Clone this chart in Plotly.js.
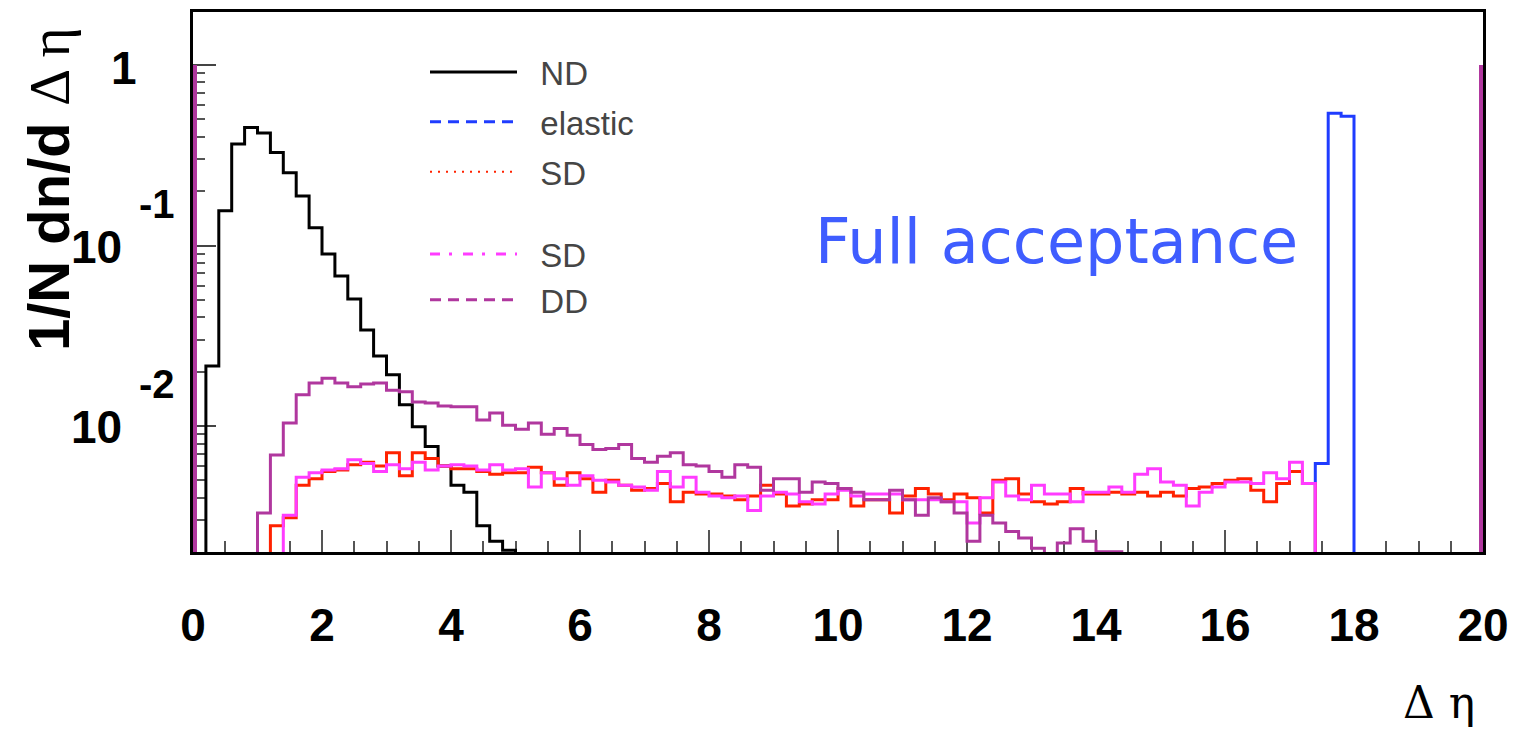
<!DOCTYPE html>
<html>
<head>
<meta charset="utf-8">
<script src="https://cdn.plot.ly/plotly-3.0.1.min.js"></script>
<style>
html,body{margin:0;padding:0;background:#ffffff;}
#chart{width:1517px;height:735px;}
</style>
</head>
<body>
<div id="chart"></div>
<script>
// ---------- histogram binning (Delta eta) ----------
const binLow = 0;
const binWidth = 0.2;
const nBins = 100;

// ---------- series values: 1/N dn/dDeta per bin (bins 0.0-0.2 ... 19.8-20.0) ----------
const ndValues = [
  0, 0.0215, 0.156, 0.365, 0.45, 0.42, 0.327, 0.253, 0.188, 0.1255,
  0.0897, 0.0678, 0.0505, 0.034, 0.0244, 0.0192, 0.0131, 0.0099, 0.0077, 0.0060,
  0.0047, 0.0043, 0.0028, 0.0023, 0.00205, 0, 0, 0, 0, 0,
  0, 0, 0, 0, 0, 0, 0, 0, 0, 0,
  0, 0, 0, 0, 0, 0, 0, 0, 0, 0,
  0, 0, 0, 0, 0, 0, 0, 0, 0, 0,
  0, 0, 0, 0, 0, 0, 0, 0, 0, 0,
  0, 0, 0, 0, 0, 0, 0, 0, 0, 0,
  0, 0, 0, 0, 0, 0, 0, 0, 0, 0,
  0, 0, 0, 0, 0, 0, 0, 0, 0, 0
];

const elasticValues = [
  0, 0, 0, 0, 0, 0, 0, 0, 0, 0,
  0, 0, 0, 0, 0, 0, 0, 0, 0, 0,
  0, 0, 0, 0, 0, 0, 0, 0, 0, 0,
  0, 0, 0, 0, 0, 0, 0, 0, 0, 0,
  0, 0, 0, 0, 0, 0, 0, 0, 0, 0,
  0, 0, 0, 0, 0, 0, 0, 0, 0, 0,
  0, 0, 0, 0, 0, 0, 0, 0, 0, 0,
  0, 0, 0, 0, 0, 0, 0, 0, 0, 0,
  0, 0, 0, 0, 0, 0, 0, 0.0062, 0.54, 0.52,
  0, 0, 0, 0, 0, 0, 0, 0, 0, 0
];

const sdRedValues = [
  0, 0, 0, 0, 0, 0, 0.0028, 0.0031, 0.0047, 0.0051,
  0.0056, 0.0057, 0.0061, 0.0063, 0.0060, 0.0071, 0.0053, 0.0071, 0.0066, 0.0060,
  0.0058, 0.0058, 0.0056, 0.0054, 0.0055, 0.0055, 0.0059, 0.0055, 0.0047, 0.0055,
  0.0051, 0.0043, 0.0050, 0.0047, 0.0044, 0.0045, 0.0048, 0.0038, 0.0043, 0.0042,
  0.0042, 0.0041, 0.0039, 0.0041, 0.0047, 0.0042, 0.0036, 0.0037, 0.0039, 0.0039,
  0.0045, 0.0036, 0.0039, 0.0039, 0.0033, 0.0041, 0.0045, 0.0042, 0.0039, 0.0042,
  0.0040, 0.0033, 0.0050, 0.0051, 0.0042, 0.0038, 0.0037, 0.0038, 0.0045, 0.0042,
  0.0042, 0.0043, 0.0042, 0.0043, 0.0041, 0.0043, 0.0041, 0.0045, 0.0046, 0.0048,
  0.0050, 0.0051, 0.0044, 0.0038, 0.0048, 0.0056, 0.0048, 0, 0, 0,
  0, 0, 0, 0, 0, 0, 0, 0, 0, 0
];

const sdMagentaValues = [
  0, 0, 0, 0, 0, 0, 0, 0.0032, 0.0052, 0.0055,
  0.0057, 0.0058, 0.0065, 0.0062, 0.0056, 0.0061, 0.0058, 0.0063, 0.0057, 0.0060,
  0.0061, 0.0060, 0.0057, 0.0061, 0.0057, 0.0058, 0.0046, 0.0055, 0.0051, 0.0047,
  0.0053, 0.0050, 0.0049, 0.0047, 0.0046, 0.0044, 0.0056, 0.0046, 0.0052, 0.0043,
  0.0041, 0.0040, 0.0041, 0.0034, 0.0041, 0.0043, 0.0042, 0.0038, 0.0037, 0.0042,
  0.0044, 0.0041, 0.0042, 0.0042, 0.0042, 0.0039, 0.0039, 0.0039, 0.0038, 0.0038,
  0.0029, 0.0040, 0.0049, 0.0041, 0.0039, 0.0047, 0.0042, 0.0042, 0.0038, 0.0043,
  0.0043, 0.0046, 0.0043, 0.0054, 0.0058, 0.0049, 0.0047, 0.0036, 0.0043, 0.0046,
  0.0049, 0.0049, 0.0048, 0.0055, 0.0051, 0.0063, 0.0048, 0, 0, 0,
  0, 0, 0, 0, 0, 0, 0, 0, 0, 0
];

const ddValues = [
  0, 0, 0, 0, 0, 0.0033, 0.0069, 0.0104, 0.0149, 0.0173,
  0.0184, 0.0173, 0.0165, 0.0171, 0.0173, 0.0158, 0.0155, 0.0136, 0.0134, 0.0129,
  0.0128, 0.0128, 0.0108, 0.0118, 0.0101, 0.0096, 0.0104, 0.0090, 0.0097, 0.0089,
  0.0079, 0.0074, 0.0075, 0.0079, 0.0066, 0.0063, 0.0068, 0.0071, 0.0061, 0.0060,
  0.0056, 0.0052, 0.0061, 0.0059, 0.0044, 0.0051, 0.0051, 0.0043, 0.0049, 0.0048,
  0.0045, 0.0043, 0.0039, 0.0039, 0.0044, 0.0039, 0.0032, 0.0040, 0.0038, 0.0033,
  0.0023, 0.0032, 0.0029, 0.0026, 0.0024, 0.0021, 0, 0.00225, 0.0027, 0.0023,
  0.00201, 0.00201, 0, 0, 0, 0, 0, 0, 0, 0,
  0, 0, 0, 0, 0, 0, 0, 0, 0, 0,
  0, 0, 0, 0, 0, 0, 0, 0, 0, 0
];
// DD histogram edge lines drawn at the histogram range limits (value reached)
const ddEdgeValues = [1, 1];

// ---------- labels ----------
const seriesNames = ['ND', 'elastic', 'SD', 'SD', 'DD'];
const xTickVals = [0, 2, 4, 6, 8, 10, 12, 14, 16, 18, 20];
const xTickText = ['0', '2', '4', '6', '8', '10', '12', '14', '16', '18', '20'];
const yTickVals = [1, 0.1, 0.01];
const yTickBase = ['1', '10', '10'];
const yTickExp = ['', '-1', '-2'];
const yTitleMain = '1/N dn/d';
const yTitleSym = 'Δ η';
const xTitle = 'Δ η';
const noteText = 'Full acceptance';

// ---------- styling ----------
const colors = {nd: '#000000', el: '#1f3cff', sd: '#ff2200', sd2: '#ff3cff', dd: '#b0379e'};
const FLOOR = 1e-4; // empty bins drawn below the visible range
const yRange = [-2.698, 0.2936];

function stepXY(values) {
  const xs = [binLow], ys = [FLOOR];
  values.forEach((v, i) => { xs.push(binLow + i * binWidth); ys.push(v > 0 ? v : FLOOR); });
  const last = values[values.length - 1];
  const xEnd = binLow + values.length * binWidth;
  xs.push(xEnd); ys.push(last > 0 ? last : FLOOR);
  xs.push(xEnd); ys.push(FLOOR);
  return {x: xs, y: ys};
}

function histTrace(values, color) {
  const p = stepXY(values);
  return {type: 'scatter', mode: 'lines', x: p.x, y: p.y,
    line: {color: color, width: 3, shape: 'hv', simplify: false},
    showlegend: false, hoverinfo: 'skip'};
}

const xMax = binLow + nBins * binWidth;
const edgeTrace = {type: 'scatter', mode: 'lines',
  x: [binLow, binLow, null, xMax, xMax],
  y: [FLOOR, ddEdgeValues[0], null, FLOOR, ddEdgeValues[1]],
  line: {color: colors.dd, width: 8}, showlegend: false, hoverinfo: 'skip'};

const pad = '\u00A0\u00A0';
function legendTrace(name, color, dash, width, legendId, group) {
  return {type: 'scatter', mode: 'lines', x: [null], y: [null], name: pad + name,
    line: {color: color, dash: dash, width: width}, legend: legendId,
    legendgroup: group, showlegend: true, hoverinfo: 'skip'};
}

const data = [
  histTrace(ndValues, colors.nd),
  histTrace(elasticValues, colors.el),
  histTrace(sdRedValues, colors.sd),
  histTrace(sdMagentaValues, colors.sd2),
  histTrace(ddValues, colors.dd),
  edgeTrace,
  legendTrace(seriesNames[0], colors.nd, 'solid', 3, 'legend', 'g1'),
  legendTrace(seriesNames[1], colors.el, '11px,7px', 3, 'legend', 'g2'),
  legendTrace(seriesNames[2], colors.sd, '2px,6px', 2, 'legend', 'g3'),
  legendTrace(seriesNames[3], colors.sd2, '10px,9px,3px,11px', 3, 'legend2', 'g4'),
  legendTrace(seriesNames[4], colors.dd, '11px,7px', 3, 'legend2', 'g5')
];

const L = 193, R = 34, T = 12, B = 183;
const W = 1517, H = 735;
const pw = W - L - R, ph = H - T - B;
const px = (x) => (x - L) / pw;      // pixel -> paper x
const py = (y) => (H - B - y) / ph;  // pixel -> paper y

const tickFont = {family: 'Liberation Sans', size: 46, color: '#000000', weight: 'bold'};
const annotations = [];
yTickVals.forEach((v, i) => {
  const isOne = yTickExp[i] === '';
  annotations.push({xref: 'paper', yref: 'y', x: px(isOne ? 139 : 124), y: Math.log10(v),
    xanchor: 'right', yanchor: 'middle', yshift: isOne ? -3 : -1, showarrow: false,
    text: '<b>' + yTickBase[i] + '</b>', font: {family: 'Liberation Sans', size: 46, color: '#000000'}});
  if (!isOne) {
    annotations.push({xref: 'paper', yref: 'y', x: px(137), y: Math.log10(v),
      xanchor: 'left', yanchor: 'middle', yshift: 42, showarrow: false,
      text: '<b>' + yTickExp[i] + '</b>', font: {family: 'Liberation Sans', size: 40, color: '#000000'}});
  }
});
annotations.push({xref: 'paper', yref: 'paper', x: px(49), y: py(189), xanchor: 'center', yanchor: 'middle',
  textangle: -90, showarrow: false,
  text: '<b>' + yTitleMain + '</b> <span style="font-family:Liberation Serif">' + yTitleSym + '</span>',
  font: {family: 'Liberation Sans', size: 58, color: '#000000'}});
annotations.push({xref: 'paper', yref: 'paper', x: px(1477), y: py(702), xanchor: 'right', yanchor: 'middle',
  showarrow: false, text: xTitle, font: {family: 'DejaVu Serif', size: 44, color: '#000000'}});
annotations.push({xref: 'paper', yref: 'paper', x: px(813), y: py(241), xanchor: 'left', yanchor: 'middle',
  showarrow: false, text: noteText, font: {family: 'DejaVu Sans', size: 62, color: '#3f5dff'}});

const legendFont = {family: 'Liberation Sans', size: 33, color: '#454545'};
const layout = {
  width: W, height: H,
  margin: {l: L, r: R, t: T, b: B, pad: 0},
  paper_bgcolor: '#ffffff', plot_bgcolor: '#ffffff',
  xaxis: {range: [binLow, xMax], showline: true, linewidth: 3, linecolor: '#000000', mirror: true,
    ticks: 'inside', ticklen: 22, tickwidth: 2, tickcolor: '#555555',
    tickmode: 'array', tickvals: xTickVals, ticktext: xTickText, tickfont: tickFont,
    ticklabelstandoff: 31,
    minor: {ticks: 'inside', ticklen: 11, tickwidth: 2, tickcolor: '#555555', dtick: 0.5, showgrid: false},
    showgrid: false, zeroline: false, layer: 'below traces', fixedrange: true},
  yaxis: {type: 'log', range: yRange, showline: true, linewidth: 3, linecolor: '#000000', mirror: true,
    ticks: 'inside', ticklen: 23, tickwidth: 2, tickcolor: '#444444',
    tickmode: 'array', tickvals: yTickVals, showticklabels: false,
    minor: {ticks: 'inside', ticklen: 12, tickwidth: 2, tickcolor: '#555555',
      tickmode: 'array', tickvals: [0.002,0.003,0.004,0.005,0.006,0.007,0.008,0.009,
        0.02,0.03,0.04,0.05,0.06,0.07,0.08,0.09,0.2,0.3,0.4,0.5,0.6,0.7,0.8,0.9,2], showgrid: false},
    showgrid: false, zeroline: false, layer: 'below traces', fixedrange: true},
  legend: {x: px(425), y: py(44), xanchor: 'left', yanchor: 'top', bgcolor: 'rgba(0,0,0,0)',
    borderwidth: 0, font: legendFont, itemwidth: 87, traceorder: 'grouped', tracegroupgap: 4},
  legend2: {x: px(425), y: py(226), xanchor: 'left', yanchor: 'top', bgcolor: 'rgba(0,0,0,0)',
    borderwidth: 0, font: legendFont, itemwidth: 87, traceorder: 'grouped', tracegroupgap: 0},
  annotations: annotations,
  showlegend: true
};

Plotly.newPlot('chart', data, layout, {staticPlot: true, displayModeBar: false});
</script>
</body>
</html>
